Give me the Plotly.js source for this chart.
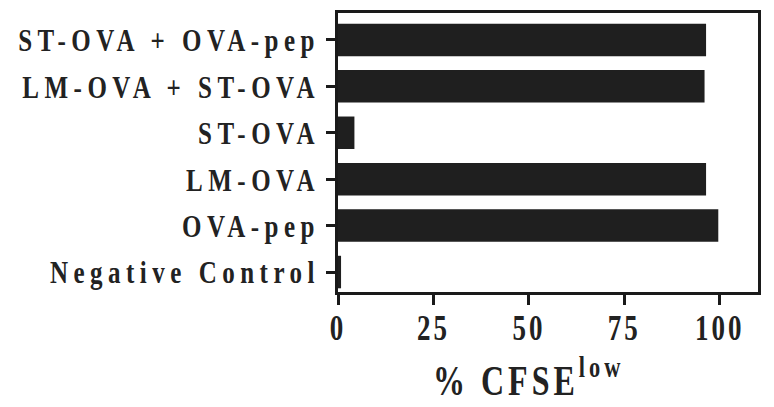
<!DOCTYPE html>
<html>
<head>
<meta charset="utf-8">
<script src="https://cdn.plot.ly/plotly-3.0.1.min.js"></script>
<style>
html,body{margin:0;padding:0;background:#fff;}
#chart{width:774px;height:407px;}
.ytick text{letter-spacing:5.5px;}
.xtick text{letter-spacing:3px;}
.annotation-text{letter-spacing:4px;}
g.ytick{transform-box:fill-box;transform-origin:center;transform:scaleY(1.3);}
g.xtick{transform-box:fill-box;transform-origin:center;transform:scaleY(1.3);}
g.annotation-text-g{transform-box:fill-box;transform-origin:center;transform:scaleY(1.35);}
</style>
</head>
<body>
<div id="chart"></div>
<script>
const categories = ["Negative Control", "OVA-pep", "LM-OVA", "ST-OVA", "LM-OVA + ST-OVA", "ST-OVA + OVA-pep"];
const values = [0.8, 99.6, 96.4, 4.3, 96.0, 96.4];
const tickValues = [0, 25, 50, 75, 100];
const tickLabels = ["0", "25", "50", "75", "100"];

const font = "'Liberation Serif', 'Times New Roman', serif";

const trace = {
  type: "bar",
  orientation: "h",
  y: categories,
  x: values,
  width: 0.7,
  marker: {color: "#1f1f1f", line: {width: 0}},
  hoverinfo: "skip"
};

const layout = {
  width: 774,
  height: 407,
  margin: {l: 338, r: 16, t: 13, b: 115},
  paper_bgcolor: "#ffffff",
  plot_bgcolor: "#ffffff",
  showlegend: false,
  xaxis: {
    range: [0, 110],
    tickvals: tickValues,
    ticktext: tickLabels,
    ticks: "outside",
    ticklen: 10,
    tickwidth: 3,
    tickcolor: "#1a1a1a",
    showline: true,
    linewidth: 3,
    linecolor: "#1a1a1a",
    mirror: true,
    showgrid: false,
    zeroline: false,
    ticklabelstandoff: 0,
    tickfont: {family: font, size: 27, color: "#222222", weight: "bold"},
    fixedrange: true
  },
  yaxis: {
    type: "category",
    range: [-0.43, 5.58],
    ticks: "outside",
    ticklen: 9,
    tickwidth: 3,
    tickcolor: "#1a1a1a",
    showline: true,
    linewidth: 3,
    linecolor: "#1a1a1a",
    mirror: true,
    showgrid: false,
    zeroline: false,
    ticklabelstandoff: 1,
    tickfont: {family: font, size: 25, color: "#222222", weight: "bold"},
    fixedrange: true
  },
  annotations: [{
    text: "% CFSE<sup>low</sup>",
    xref: "x",
    yref: "paper",
    x: 50,
    y: -0.225,
    xanchor: "center",
    yanchor: "top",
    showarrow: false,
    font: {family: font, size: 32, color: "#222222", weight: "bold"}
  }]
};

Plotly.newPlot("chart", [trace], layout, {displayModeBar: false, staticPlot: true});
</script>
</body>
</html>
